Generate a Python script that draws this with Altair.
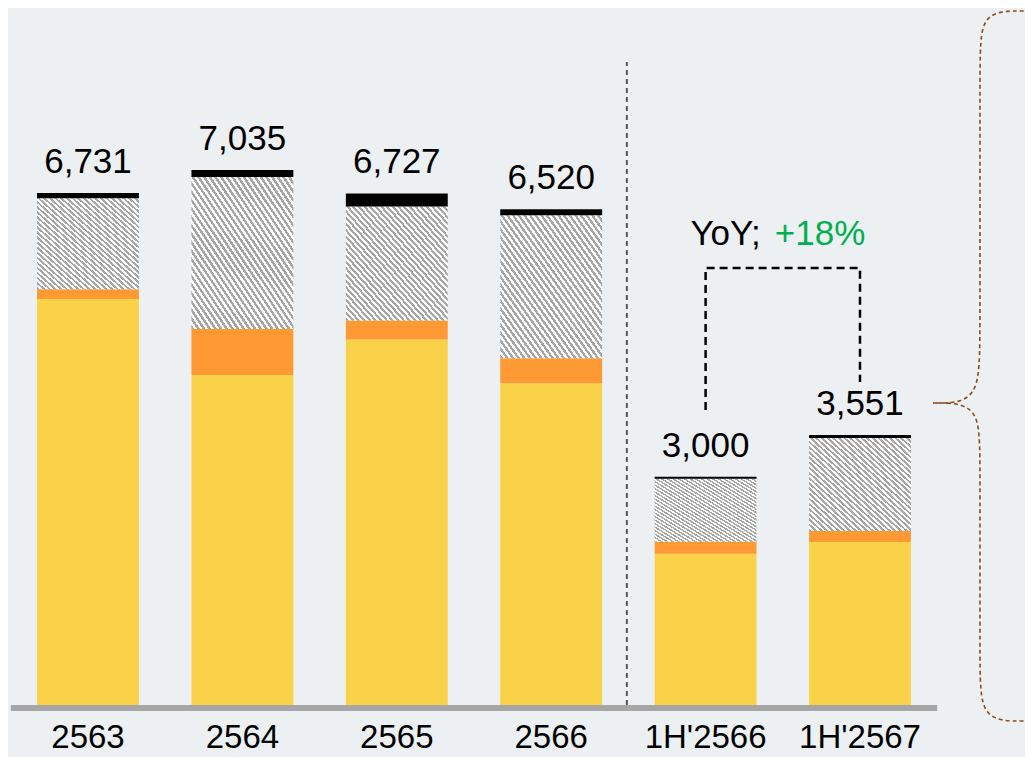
import altair as alt
import pandas as pd

# ---- data ----
categories = ["2563", "2564", "2565", "2566", "1H'2566", "1H'2567"]
totals = [6731, 7035, 6727, 6520, 3000, 3551]
total_labels = ["6,731", "7,035", "6,727", "6,520", "3,000", "3,551"]
seg_yellow = [5337, 4339, 4807, 4232, 1988, 2144]
seg_orange = [131, 605, 250, 329, 158, 145]
seg_gray = [1197, 1999, 1499, 1880, 828, 1223]
seg_black = [66, 92, 171, 79, 26, 39]
segment_names = ["yellow", "orange", "gray", "black"]

# annotation geometry in data units (slot index, value)
sep_x = [3.49, 3.49]
sep_y = [0, 8455]
conn_x = [4, 4, 5, 5]
conn_y = [3879, 5746, 5746, 4247]
yoy_x = 4.5
yoy_y = 6049
brace_x_upper = [6.06, 5.777, 5.777, 5.777, 5.777, 5.473]
brace_y_upper = [9126, 9126, 8429, 4839, 3971, 3971]
brace_x_lower = [5.473, 5.777, 5.777, 5.777, 5.777, 6.06]
brace_y_lower = [3971, 3971, 3235, 539, -210, -210]

# ---- tables ----
rows = []
for i, cat in enumerate(categories):
    base = 0
    for name, vals in zip(segment_names, [seg_yellow, seg_orange, seg_gray, seg_black]):
        v = vals[i]
        rows.append({"cat": cat, "slot": i, "seg": name, "y0": base, "y1": base + v})
        base += v
bars = pd.DataFrame(rows)
bars["xl"] = bars["slot"] - 0.33
bars["xr"] = bars["slot"] + 0.33

labels = pd.DataFrame({"cat": categories, "slot": list(range(len(categories))),
                       "total": totals, "label": total_labels})
sep = pd.DataFrame({"x": sep_x, "y": sep_y})
conn = pd.DataFrame({"x": conn_x, "y": conn_y, "k": list(range(len(conn_x)))})
brace = pd.DataFrame({
    "x": brace_x_upper + brace_x_lower,
    "y": brace_y_upper + brace_y_lower,
    "k": list(range(len(brace_x_upper))) + list(range(len(brace_x_lower))),
    "half": ["u"] * len(brace_x_upper) + ["l"] * len(brace_x_lower),
})
axis_line = pd.DataFrame({"x": [-0.5], "x2": [5.5], "y": [0]})
yoy = pd.DataFrame({"x": [yoy_x], "y": [yoy_y]})

# ---- scales ----
xs = alt.Scale(domain=[-0.5181, 6.0687], nice=False, zero=False)
ys = alt.Scale(domain=[0, 9165], nice=False, zero=False)
FONT = "Liberation Sans"

# hatch fill for the gray segment
N = 36
stops = []
for j in range(N):
    a, b, c = j / N, (j + 0.5) / N, (j + 1) / N
    stops += [alt.GradientStop(offset=a, color="#A6A6A6"),
              alt.GradientStop(offset=b, color="#A6A6A6"),
              alt.GradientStop(offset=b, color="#FFFFFF"),
              alt.GradientStop(offset=c, color="#FFFFFF")]
hatch = alt.LinearGradient(gradient="linear", stops=stops, x1=0, y1=1, x2=1, y2=0)

base_bar = alt.Chart(bars).encode(
    x=alt.X("xl:Q", scale=xs, axis=None),
    x2="xr:Q",
    y=alt.Y("y0:Q", scale=ys, axis=None),
    y2="y1:Q",
)
yellow = base_bar.transform_filter(alt.datum.seg == "yellow").mark_bar(fill="#FAD24A", strokeWidth=0)
orange = base_bar.transform_filter(alt.datum.seg == "orange").mark_bar(fill="#FF9933", strokeWidth=0)
gray = base_bar.transform_filter(alt.datum.seg == "gray").mark_bar(fill=hatch, strokeWidth=0)
black = base_bar.transform_filter(alt.datum.seg == "black").mark_bar(fill="#000000", strokeWidth=0)

value_text = alt.Chart(labels).mark_text(
    font=FONT, fontSize=35, color="#000000", baseline="alphabetic", align="center", dy=-20
).encode(x=alt.X("slot:Q", scale=xs), y=alt.Y("total:Q", scale=ys), text="label:N")

cat_text = alt.Chart(labels).mark_text(
    font=FONT, fontSize=33, color="#000000", baseline="alphabetic", align="center", dy=43
).encode(x=alt.X("slot:Q", scale=xs), y=alt.datum(0, scale=ys), text="cat:N")

axis_rule = alt.Chart(axis_line).mark_rule(color="#A6A6A6", strokeWidth=6, yOffset=3).encode(
    x=alt.X("x:Q", scale=xs), x2="x2:Q", y=alt.Y("y:Q", scale=ys))

sep_line = alt.Chart(sep).mark_line(color="#595959", strokeWidth=2, strokeDash=[5, 4]).encode(
    x=alt.X("x:Q", scale=xs), y=alt.Y("y:Q", scale=ys))

conn_line = alt.Chart(conn).mark_line(color="#000000", strokeWidth=2.5, strokeDash=[8, 5]).encode(
    x=alt.X("x:Q", scale=xs), y=alt.Y("y:Q", scale=ys), order="k:Q")

yoy_a = alt.Chart(yoy).mark_text(
    font=FONT, fontSize=35, color="#000000", align="right", baseline="alphabetic", dx=-22, text="YoY;"
).encode(x=alt.X("x:Q", scale=xs), y=alt.Y("y:Q", scale=ys))
yoy_b = alt.Chart(yoy).mark_text(
    font=FONT, fontSize=35, color="#00B050", align="left", baseline="alphabetic", dx=-8, text="+18%"
).encode(x=alt.X("x:Q", scale=xs), y=alt.Y("y:Q", scale=ys))

brace_line = alt.Chart(brace).mark_line(
    color="#8C4A1C", strokeWidth=1.6, strokeDash=[4, 3], interpolate="basis"
).encode(x=alt.X("x:Q", scale=xs), y=alt.Y("y:Q", scale=ys), order="k:Q", detail="half:N")

chart = alt.layer(
    yellow, orange, gray, black, axis_rule, sep_line, conn_line,
    value_text, cat_text, yoy_a, yoy_b, brace_line
).properties(
    width=1017, height=697,
    padding={"left": 0, "right": 0, "top": 0, "bottom": 52},
    autosize=alt.AutoSizeParams(type="none"),
    background="#EDF0F3",
).configure_view(stroke=None)

chart.save("out.html", embed_options={"renderer": "svg", "actions": False})
